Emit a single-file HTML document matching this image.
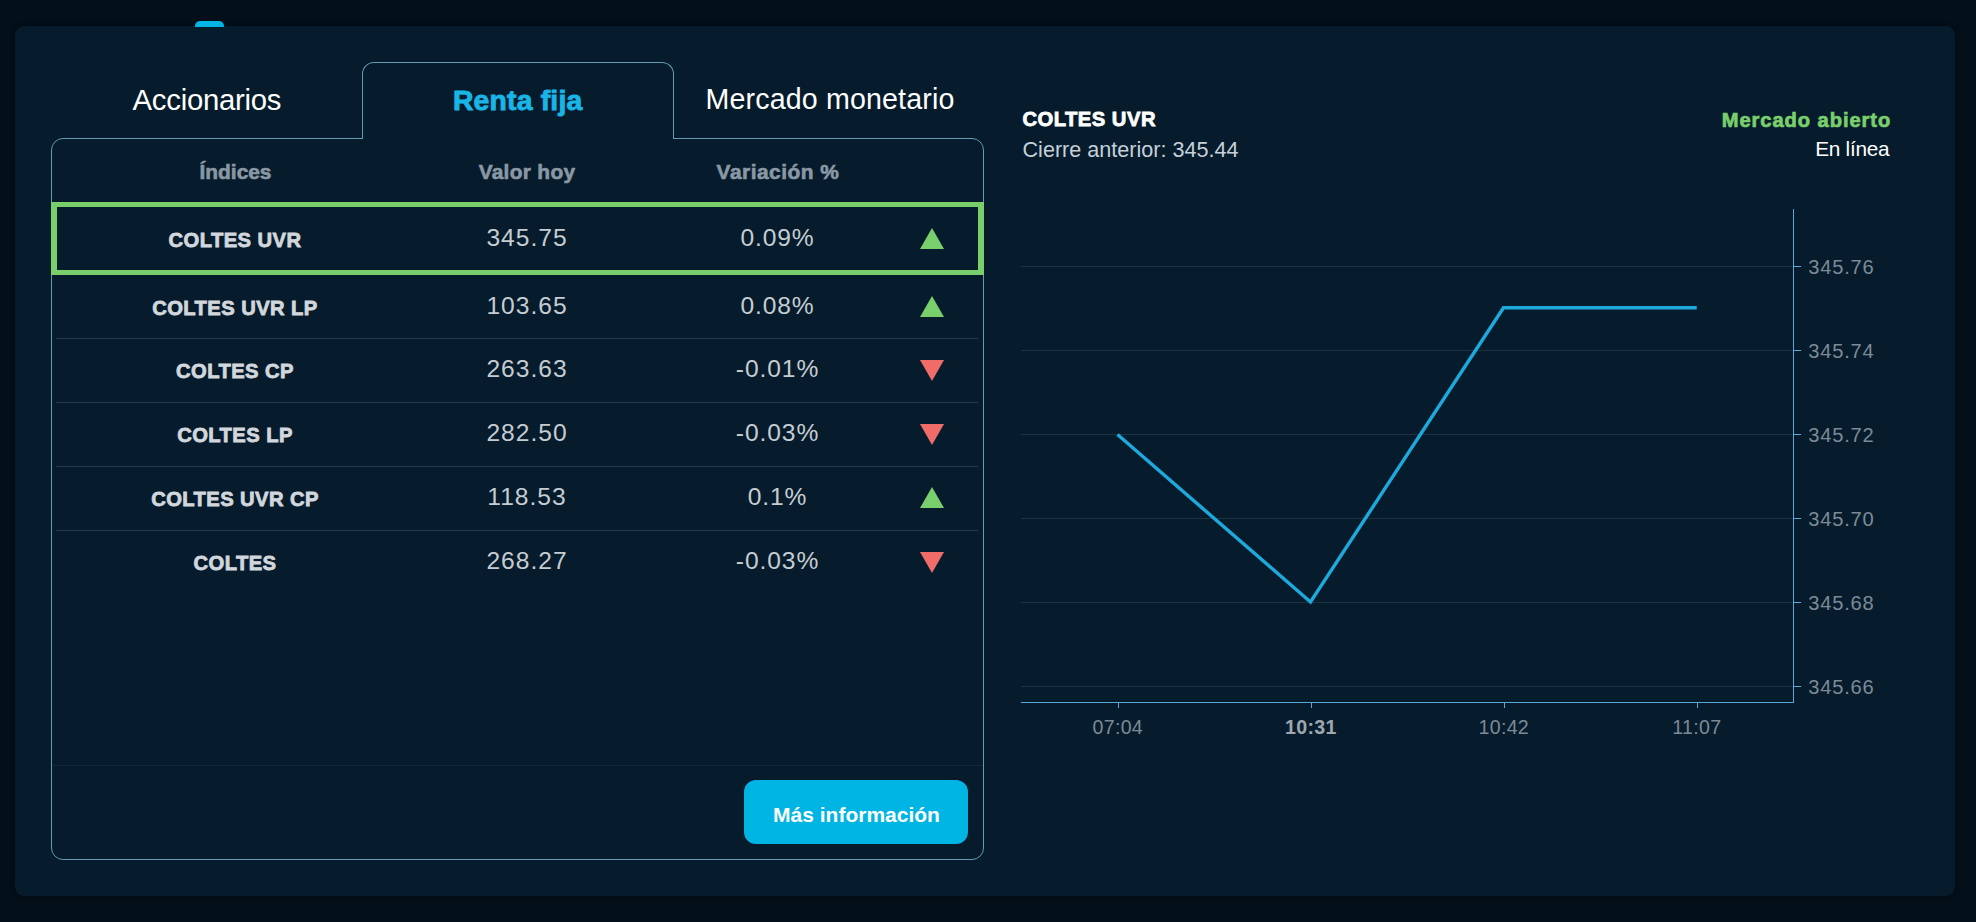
<!DOCTYPE html>
<html lang="es">
<head>
<meta charset="utf-8">
<title>Renta fija</title>
<style>
html,body{margin:0;padding:0;}
body{width:1976px;height:922px;overflow:hidden;background:#03101a;position:relative;font-family:"Liberation Sans",sans-serif;}
.t{position:absolute;white-space:nowrap;line-height:1;}
.card{position:absolute;left:15px;top:26px;width:1940px;height:870px;border-radius:9px;background:#061c2c;box-shadow:0 0 4px 1px rgba(0,0,0,.45);}
.nub{position:absolute;left:195px;top:21px;width:29px;height:6px;border-radius:5px 5px 0 0;background:#00b5e3;}
.panel{position:absolute;left:51px;top:138px;width:931px;height:720px;border:1px solid #659ab2;border-radius:12px;}
.tab{position:absolute;left:362px;top:62px;width:310px;height:76px;border:1px solid #659ab2;border-bottom:none;border-radius:12px 12px 0 0;background:#061c2c;}
.sel{position:absolute;left:51px;top:202px;width:921px;height:63px;border:5px solid #79cf6c;border-left-width:6px;border-right-width:6px;}
.sep{position:absolute;left:56px;width:922px;height:1px;background:#283b4a;}
.up,.dn{position:absolute;left:920px;width:0;height:0;border-left:12px solid transparent;border-right:12px solid transparent;}
.up{border-bottom:21px solid #79cf6c;}
.dn{border-top:21px solid #f06c68;}
.btn{position:absolute;left:744px;top:780px;width:224px;height:64px;border-radius:12px;background:#00b5e3;}
svg{position:absolute;left:0;top:0;}
</style>
</head>
<body>
<div class="card"></div>
<div class="nub"></div>
<div class="panel"></div>
<div class="tab"></div>
<div class="sel"></div>
<div class="sep" style="top:338px"></div>
<div class="sep" style="top:402px"></div>
<div class="sep" style="top:466px"></div>
<div class="sep" style="top:530px"></div>
<div class="sep" style="top:765px;left:52px;width:931px;background:#13283a;"></div>
<div class="btn"></div>
<svg width="1976" height="922" viewBox="0 0 1976 922">
<line x1="1021" y1="266.5" x2="1793" y2="266.5" stroke="#1c3141" stroke-width="1"/>
<line x1="1793" y1="266.5" x2="1801" y2="266.5" stroke="#5aa6d4" stroke-width="1"/>
<line x1="1021" y1="350.5" x2="1793" y2="350.5" stroke="#1c3141" stroke-width="1"/>
<line x1="1793" y1="350.5" x2="1801" y2="350.5" stroke="#5aa6d4" stroke-width="1"/>
<line x1="1021" y1="434.5" x2="1793" y2="434.5" stroke="#1c3141" stroke-width="1"/>
<line x1="1793" y1="434.5" x2="1801" y2="434.5" stroke="#5aa6d4" stroke-width="1"/>
<line x1="1021" y1="518.5" x2="1793" y2="518.5" stroke="#1c3141" stroke-width="1"/>
<line x1="1793" y1="518.5" x2="1801" y2="518.5" stroke="#5aa6d4" stroke-width="1"/>
<line x1="1021" y1="602.5" x2="1793" y2="602.5" stroke="#1c3141" stroke-width="1"/>
<line x1="1793" y1="602.5" x2="1801" y2="602.5" stroke="#5aa6d4" stroke-width="1"/>
<line x1="1021" y1="686.5" x2="1793" y2="686.5" stroke="#1c3141" stroke-width="1"/>
<line x1="1793" y1="686.5" x2="1801" y2="686.5" stroke="#5aa6d4" stroke-width="1"/>
<line x1="1793.5" y1="209" x2="1793.5" y2="703" stroke="#5aa6d4" stroke-width="1"/>
<line x1="1021" y1="702.5" x2="1794" y2="702.5" stroke="#5aa6d4" stroke-width="1"/>
<line x1="1118.5" y1="702" x2="1118.5" y2="708" stroke="#5aa6d4" stroke-width="1"/>
<line x1="1311.5" y1="702" x2="1311.5" y2="708" stroke="#5aa6d4" stroke-width="1"/>
<line x1="1504.5" y1="702" x2="1504.5" y2="708" stroke="#5aa6d4" stroke-width="1"/>
<line x1="1697.5" y1="702" x2="1697.5" y2="708" stroke="#5aa6d4" stroke-width="1"/>
<polyline points="1117.5,434.5 1310.5,602 1503.5,307.8 1696.7,307.8" fill="none" stroke="#1ea9dc" stroke-width="3.4" stroke-linejoin="miter"/>
</svg>
<div class="t" style="top:85.20px;font-size:29.3px;color:#ffffff;letter-spacing:-0.25px;left:-193.1px;width:800px;text-align:center;">Accionarios</div>
<div class="t" style="top:85.94px;font-size:28.3px;color:#18b5e6;-webkit-text-stroke:0.9px #18b5e6;font-weight:bold;letter-spacing:0.22px;left:117.70000000000005px;width:800px;text-align:center;">Renta fija</div>
<div class="t" style="top:85.49px;font-size:28.6px;color:#ffffff;letter-spacing:0.15px;left:430.0px;width:800px;text-align:center;">Mercado monetario</div>
<div class="t" style="top:162.11px;font-size:20.9px;color:#8a98a4;-webkit-text-stroke:0.6px #8a98a4;font-weight:bold;left:-164.5px;width:800px;text-align:center;">Índices</div>
<div class="t" style="top:162.11px;font-size:20.9px;color:#8a98a4;-webkit-text-stroke:0.6px #8a98a4;font-weight:bold;letter-spacing:0.3px;left:127px;width:800px;text-align:center;">Valor hoy</div>
<div class="t" style="top:162.11px;font-size:20.9px;color:#8a98a4;-webkit-text-stroke:0.6px #8a98a4;font-weight:bold;letter-spacing:0.5px;left:378px;width:800px;text-align:center;">Variación %</div>
<div class="t" style="top:230.20px;font-size:20.2px;color:#d1d7dc;-webkit-text-stroke:0.8px #d1d7dc;font-weight:bold;letter-spacing:0.42px;left:-165px;width:800px;text-align:center;">COLTES UVR</div>
<div class="t" style="top:226.08px;font-size:24.6px;color:#c5ccd2;letter-spacing:1.0px;left:127px;width:800px;text-align:center;">345.75</div>
<div class="t" style="top:226.08px;font-size:24.6px;color:#c5ccd2;letter-spacing:0.9px;left:377.5px;width:800px;text-align:center;">0.09%</div>
<div class="up" style="top:228.0px"></div>
<div class="t" style="top:297.80px;font-size:20.2px;color:#d1d7dc;-webkit-text-stroke:0.8px #d1d7dc;font-weight:bold;letter-spacing:0.42px;left:-165px;width:800px;text-align:center;">COLTES UVR LP</div>
<div class="t" style="top:293.68px;font-size:24.6px;color:#c5ccd2;letter-spacing:1.0px;left:127px;width:800px;text-align:center;">103.65</div>
<div class="t" style="top:293.68px;font-size:24.6px;color:#c5ccd2;letter-spacing:0.9px;left:377.5px;width:800px;text-align:center;">0.08%</div>
<div class="up" style="top:295.6px"></div>
<div class="t" style="top:361.00px;font-size:20.2px;color:#d1d7dc;-webkit-text-stroke:0.8px #d1d7dc;font-weight:bold;letter-spacing:0.42px;left:-165px;width:800px;text-align:center;">COLTES CP</div>
<div class="t" style="top:356.88px;font-size:24.6px;color:#c5ccd2;letter-spacing:1.0px;left:127px;width:800px;text-align:center;">263.63</div>
<div class="t" style="top:356.88px;font-size:24.6px;color:#c5ccd2;letter-spacing:0.9px;left:377.5px;width:800px;text-align:center;">-0.01%</div>
<div class="dn" style="top:359.6px"></div>
<div class="t" style="top:425.40px;font-size:20.2px;color:#d1d7dc;-webkit-text-stroke:0.8px #d1d7dc;font-weight:bold;letter-spacing:0.42px;left:-165px;width:800px;text-align:center;">COLTES LP</div>
<div class="t" style="top:421.28px;font-size:24.6px;color:#c5ccd2;letter-spacing:1.0px;left:127px;width:800px;text-align:center;">282.50</div>
<div class="t" style="top:421.28px;font-size:24.6px;color:#c5ccd2;letter-spacing:0.9px;left:377.5px;width:800px;text-align:center;">-0.03%</div>
<div class="dn" style="top:424.0px"></div>
<div class="t" style="top:489.40px;font-size:20.2px;color:#d1d7dc;-webkit-text-stroke:0.8px #d1d7dc;font-weight:bold;letter-spacing:0.42px;left:-165px;width:800px;text-align:center;">COLTES UVR CP</div>
<div class="t" style="top:485.28px;font-size:24.6px;color:#c5ccd2;letter-spacing:1.0px;left:127px;width:800px;text-align:center;">118.53</div>
<div class="t" style="top:485.28px;font-size:24.6px;color:#c5ccd2;letter-spacing:0.9px;left:377.5px;width:800px;text-align:center;">0.1%</div>
<div class="up" style="top:487.2px"></div>
<div class="t" style="top:553.20px;font-size:20.2px;color:#d1d7dc;-webkit-text-stroke:0.8px #d1d7dc;font-weight:bold;letter-spacing:0.42px;left:-165px;width:800px;text-align:center;">COLTES</div>
<div class="t" style="top:549.08px;font-size:24.6px;color:#c5ccd2;letter-spacing:1.0px;left:127px;width:800px;text-align:center;">268.27</div>
<div class="t" style="top:549.08px;font-size:24.6px;color:#c5ccd2;letter-spacing:0.9px;left:377.5px;width:800px;text-align:center;">-0.03%</div>
<div class="dn" style="top:551.8px"></div>
<div class="t" style="top:109.10px;font-size:20.2px;color:#ffffff;-webkit-text-stroke:0.8px #ffffff;font-weight:bold;letter-spacing:0.5px;left:1022.4px;">COLTES UVR</div>
<div class="t" style="top:138.52px;font-size:21.6px;color:#c5d0da;left:1022.5px;">Cierre anterior: 345.44</div>
<div class="t" style="top:109.59px;font-size:20.1px;color:#79cf6c;-webkit-text-stroke:0.7px #79cf6c;font-weight:bold;letter-spacing:0.95px;right:84.79999999999995px;text-align:right;">Mercado abierto</div>
<div class="t" style="top:139.29px;font-size:20.8px;color:#ffffff;letter-spacing:-0.3px;right:86.79999999999995px;text-align:right;">En línea</div>
<div class="t" style="top:804.22px;font-size:21px;color:#ffffff;font-weight:bold;left:456.5px;width:800px;text-align:center;">Más información</div>
<div class="t" style="top:257.29px;font-size:20.1px;color:#7b8a96;letter-spacing:0.8px;left:1808.3px;">345.76</div>
<div class="t" style="top:341.29px;font-size:20.1px;color:#7b8a96;letter-spacing:0.8px;left:1808.3px;">345.74</div>
<div class="t" style="top:425.29px;font-size:20.1px;color:#7b8a96;letter-spacing:0.8px;left:1808.3px;">345.72</div>
<div class="t" style="top:509.29px;font-size:20.1px;color:#7b8a96;letter-spacing:0.8px;left:1808.3px;">345.70</div>
<div class="t" style="top:593.29px;font-size:20.1px;color:#7b8a96;letter-spacing:0.8px;left:1808.3px;">345.68</div>
<div class="t" style="top:677.29px;font-size:20.1px;color:#7b8a96;letter-spacing:0.8px;left:1808.3px;">345.66</div>
<div class="t" style="top:717.61px;font-size:19.6px;color:#7b8a96;letter-spacing:0.3px;left:717.8px;width:800px;text-align:center;">07:04</div>
<div class="t" style="top:717.61px;font-size:19.6px;color:#9ea7ae;font-weight:bold;letter-spacing:0.3px;left:910.8px;width:800px;text-align:center;">10:31</div>
<div class="t" style="top:717.61px;font-size:19.6px;color:#7b8a96;letter-spacing:0.3px;left:1103.8px;width:800px;text-align:center;">10:42</div>
<div class="t" style="top:717.61px;font-size:19.6px;color:#7b8a96;letter-spacing:0.3px;left:1296.8px;width:800px;text-align:center;">11:07</div>
</body>
</html>
